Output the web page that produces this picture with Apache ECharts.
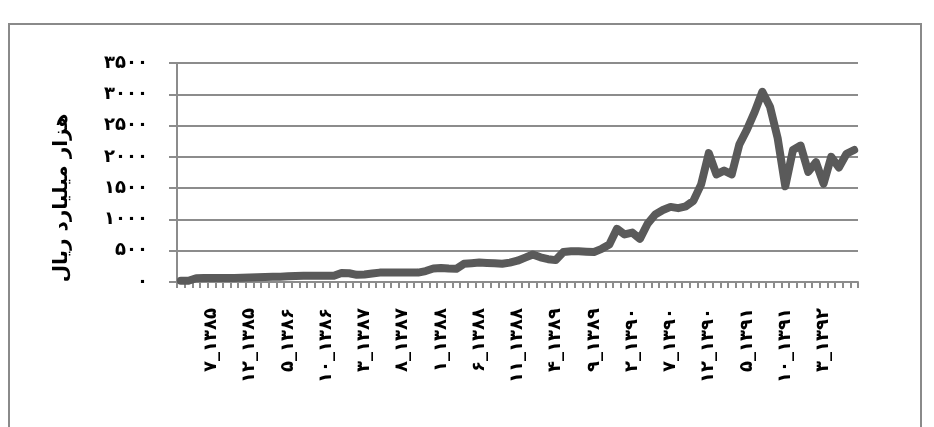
<!DOCTYPE html>
<html>
<head>
<meta charset="utf-8">
<script src="https://cdn.jsdelivr.net/npm/echarts@6/dist/echarts.min.js"></script>
<style>
  html, body { margin: 0; padding: 0; background: #fff; }
  #chart { width: 934px; height: 427px; }
</style>
</head>
<body>
<div id="chart"></div>
<script>
// Monthly series, month 3 of 1385 through month 7 of 1392
const startYear = 1385;
const startMonth = 3;
const monthCount = 89;

const values = [
  20, 20, 60, 62, 63, 64, 64, 64, 66, 70,
  76, 80, 82, 85, 90, 95, 98, 100, 100, 98,
  100, 145, 140, 115, 120, 135, 150, 152, 152, 150,
  150, 150, 175, 215, 225, 215, 210, 290, 300, 310,
  305, 300, 292, 310, 340, 390, 440, 395, 365, 350,
  480, 490, 490, 485, 480, 530, 600, 850, 760, 790,
  690, 930, 1080, 1150, 1200, 1180, 1210, 1300, 1560, 2060,
  1720, 1780, 1720, 2200, 2440, 2720, 3040, 2800, 2300, 1530,
  2110, 2180, 1760, 1915, 1570, 2000, 1830, 2050, 2110
];

const yTicks = [0, 500, 1000, 1500, 2000, 2500, 3000, 3500];
const yTitle = 'هزار میلیارد ریال';

const faDigits = ['۰', '۱', '۲', '۳', '۴', '۵', '۶', '۷', '۸', '۹'];
function toFa(n) {
  return String(n).replace(/[0-9]/g, d => faDigits[+d]);
}

const categories = [];
for (let k = 0; k < monthCount; k++) {
  const m0 = startMonth - 1 + k;
  const y = startYear + Math.floor(m0 / 12);
  const m = (m0 % 12) + 1;
  categories.push(toFa(m) + '_' + toFa(y));
}

const gray = '#8c8c8c';
const chart = echarts.init(document.getElementById('chart'), null, { renderer: 'canvas' });

chart.setOption({
  animation: false,
  backgroundColor: '#ffffff',
  textStyle: { fontFamily: 'DejaVu Sans' },
  graphic: [{
    type: 'rect',
    shape: { x: 9, y: 24, width: 912, height: 420 },
    style: { fill: 'none', stroke: '#8a8a8a', lineWidth: 2 },
    silent: true
  }, {
    // vertical axis title
    type: 'text',
    x: 62,
    y: 198,
    rotation: Math.PI / 2,
    style: {
      text: yTitle,
      fill: '#000',
      font: 'bold 20px "DejaVu Sans"',
      align: 'center',
      verticalAlign: 'middle'
    },
    silent: true
  }],
  grid: { left: 177, right: 76, top: 63, bottom: 145, containLabel: false },
  xAxis: {
    type: 'category',
    data: categories,
    boundaryGap: true,
    axisLine: { show: true, lineStyle: { color: gray, width: 2 } },
    axisTick: { show: true, interval: 0, length: 6, lineStyle: { color: gray, width: 2 } },
    axisLabel: {
      rotate: 90,
      interval: (i) => i >= 4 && (i - 4) % 5 === 0,
      margin: 26,
      color: '#000',
      fontSize: 18,
      fontWeight: 'bold',
      fontFamily: 'DejaVu Sans'
    },
    splitLine: { show: false }
  },
  yAxis: {
    type: 'value',
    min: yTicks[0],
    max: yTicks[yTicks.length - 1],
    interval: 500,
    axisLine: { show: true, lineStyle: { color: gray, width: 2 } },
    axisTick: { show: true, length: 8, lineStyle: { color: gray, width: 2 } },
    axisLabel: {
      margin: 29,
      color: '#000',
      fontSize: 18,
      fontWeight: 'bold',
      fontFamily: 'DejaVu Sans',
      formatter: (v) => toFa(v)
    },
    splitLine: { show: true, lineStyle: { color: gray, width: 2 } }
  },
  series: [{
    type: 'line',
    data: values,
    symbol: 'none',
    smooth: false,
    lineStyle: { color: '#5a5a5a', width: 8, cap: 'round', join: 'round' },
    clip: true
  }]
});
</script>
</body>
</html>
